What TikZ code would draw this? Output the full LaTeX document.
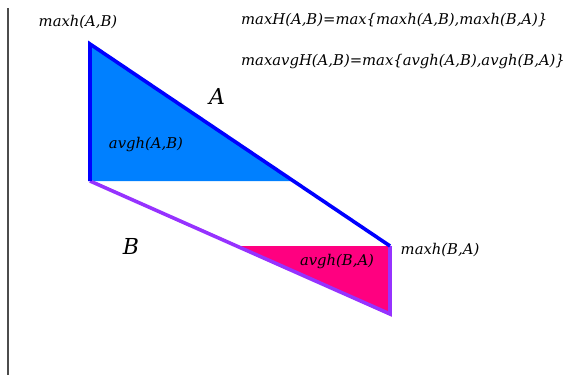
\documentclass[tikz,border=0pt]{standalone}
\usepackage{fontspec}
\setmainfont{DejaVu Serif}
\usepackage{tikz}
\usetikzlibrary{positioning, calc}

\definecolor{fillA}{RGB}{0,128,255}
\definecolor{lineA}{RGB}{0,0,255}
\definecolor{lineB}{RGB}{150,50,255}
\definecolor{fillB}{RGB}{255,0,128}

\begin{document}
\begin{tikzpicture}[
    x=1pt, y=-1pt,
    label/.style={inner sep=0pt, font=\fontsize{14.8}{16}\selectfont\itshape, text=black},
    big/.style={inner sep=0pt, font=\fontsize{22}{24}\selectfont\itshape, text=black},
    edgeA/.style={draw=lineA, line width=3.6pt},
    edgeB/.style={draw=lineB, line width=3.6pt}
]
    \useasboundingbox (0,0) rectangle (570,375);

    % corner points of the two curves
    \coordinate (a1) at (90,44);
    \coordinate (a2) at (90,181);
    \coordinate (a3) at (390,246);
    \coordinate (b1) at (390,314);
    \coordinate (a4) at (292,181);
    \coordinate (b2) at (237,246);

    \fill[fillA] (a1) -- (a2) -- (a4) -- cycle;
    \fill[fillB] (b2) -- (a3) -- (b1) -- cycle;

    \draw[edgeB] (a2) -- (b1) -- (a3);
    \draw[edgeA] (a2) -- (a1) -- (a3);

    % axis
    \draw[black!70, line width=1.6pt] (8,8) -- (8,375);

    \node[label] (mab) at (78,22) {maxh(A,B)};
    \node[label] (mba) at (440,250) {maxh(B,A)};
    \node[label] (gab) at (146,145) {avgh(A,B)};
    \node[label] (gba) at (337,262) {avgh(B,A)};
    \node[big] (na) at (217,96) {A};
    \node[big] (nb) at (131,246) {B};

    \node[label, anchor=west] (f1) at (241,20) {maxH(A,B)=max\{maxh(A,B),maxh(B,A)\}};
    \node[label, anchor=west] (f2) at (241,62) {maxavgH(A,B)=max\{avgh(A,B),avgh(B,A)\}};
\end{tikzpicture}
\end{document}
